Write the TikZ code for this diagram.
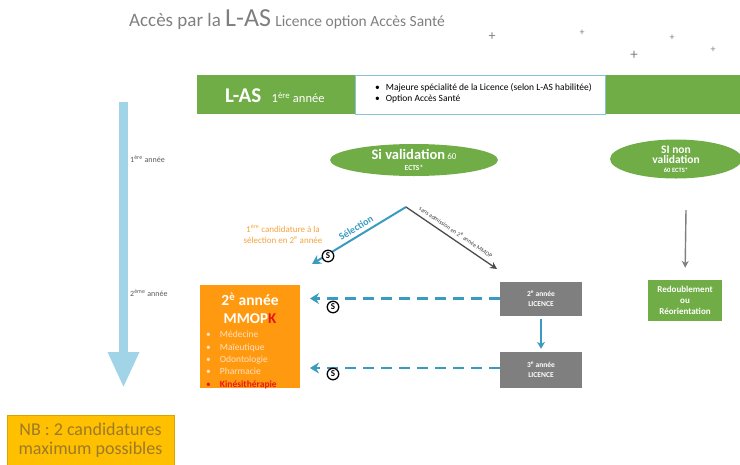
\documentclass[tikz,border=0pt]{standalone}
\usepackage{fontspec}
\setmainfont{Carlito}
\usetikzlibrary{arrows.meta}
\usetikzlibrary{positioning}
\usetikzlibrary{shapes.geometric}
\definecolor{lasgreen}{HTML}{70AD47}
\definecolor{lasblue}{HTML}{3A9BC1}
\definecolor{yearblue}{HTML}{A0D4E6}
\definecolor{lasorange}{HTML}{FF9A10}
\definecolor{lasgray}{HTML}{7F7F7F}
\definecolor{nbgold}{HTML}{FFC000}
\definecolor{nbtext}{HTML}{9C7A2A}
\definecolor{candorange}{HTML}{F5A33C}
\definecolor{kinered}{HTML}{E8151B}
\tikzset{
    greenell/.style = {ellipse,fill=lasgreen,text=white,align=center,inner sep=0},
    licbox/.style = {fill=lasgray,text=white,font=\bfseries\fontsize{7.5}{10}\selectfont,align=center,minimum width=82pt,minimum height=34pt},
    seldash/.style = {lasblue,line width=2.6pt,dash pattern=on 11pt off 7pt,-{Stealth[length=9pt,width=11pt,inset=3pt]}},
    selmark/.style = {circle,draw=black,line width=1.3pt,inner sep=0,minimum size=11.5pt,font=\bfseries\fontsize{9}{9}\selectfont},
    plusmark/.style = {text=lasgray,inner sep=0},
    yeartxt/.style = {anchor=west,text=black!65,font=\fontsize{8}{9}\selectfont,inner sep=0}
}
\begin{document}
\begin{tikzpicture}[x=1pt,y=-1pt]
    \useasboundingbox (0,0) rectangle (740,464);
    % Title
    \node[anchor=base west,inner sep=0,text=lasgray] (title) at (129,26)
        {\fontsize{19}{22}\selectfont Accès par la {\fontsize{26}{28}\selectfont L-AS} {\fontsize{15.5}{18}\selectfont Licence option Accès Santé}};
    \foreach \px/\py/\ps in {492/37/14,582/33/10,634/55/15,672/38/10,713/50/10}
        \node[plusmark,font=\fontsize{\ps}{\ps}\selectfont] at (\px,\py) {+};
    % L-AS bar
    \fill[lasgreen] (197,75) rectangle (740,114);
    \node[fill=white,draw=lasblue!60,line width=0.8pt,minimum width=250pt,minimum height=39pt] (major) at (480,94.5) {};
    \node[anchor=west,inner sep=0,text=white] (las) at (225,96)
        {\bfseries\fontsize{21}{24}\selectfont L-AS\enspace{\mdseries\fontsize{12.5}{14}\selectfont 1\textsuperscript{ère} année}};
    \node[anchor=west,inner sep=0,align=left,font=\fontsize{9.5}{11.5}\selectfont] (majtxt) at (375,93.5)
        {\textbullet\hspace{6pt}Majeure spécialité de la Licence (selon L-AS habilitée)\\
         \textbullet\hspace{6pt}Option Accès Santé};
    % Years
    \draw[yearblue,line width=9pt,-{Triangle[length=36pt,width=29pt]}] (123.5,102) coordinate (ytop) -- (123.5,388) coordinate (ybot);
    \node[yeartxt] (y1) at (130,159) {1\textsuperscript{ère} année};
    \node[yeartxt] (y2) at (130,293) {2\textsuperscript{ème} année};
    % Validation
    \node[greenell,minimum width=168pt,minimum height=32pt] (valid) at (414,160)
        {{\bfseries\fontsize{14.5}{15}\selectfont Si validation} {\fontsize{9}{9}\selectfont 60}\\[-1pt]
         {\bfseries\fontsize{7.5}{8}\selectfont ECTS*}};
    \node[greenell,minimum width=132pt,minimum height=39pt] (nonvalid) at (676,159)
        {{\bfseries\fontsize{11.5}{12}\selectfont SI non}\\[-2pt]
         {\bfseries\fontsize{11.5}{12}\selectfont validation}\\[-3pt]
         {\bfseries\fontsize{6.5}{7}\selectfont 60 ECTS*}};
    \node[fill=lasgreen,text=white,font=\bfseries\fontsize{9}{11}\selectfont,align=center,minimum width=74pt,minimum height=41pt,inner sep=1pt] (redoub) at (685,300.5)
        {Redoublement\\ou\\Réorientation};
    \coordinate (nvdown) at (686,210);
    \draw[lasgray,line width=1.4pt,-{Stealth[length=7pt,width=7pt]},shorten >=12pt] (nvdown) -- (redoub.north);
    % Selection
    \coordinate (apex) at (406,207);
    \coordinate (seltip) at (312,264);
    \coordinate (graytip) at (497,269);
    \draw[lasblue,line width=2pt,-{Stealth[length=9pt,width=10pt,inset=3pt]}] (apex) -- (seltip);
    \draw[black!70,line width=1.3pt,-{Stealth[length=7pt,width=7pt]}] (apex) -- (graytip);
    \node[text=lasblue,rotate=31,inner sep=0,font=\bfseries\fontsize{10}{11}\selectfont] (seltxt) at (356,228) {Sélection};
    \node[text=black!75,rotate=-34,inner sep=0,font=\fontsize{6}{7}\selectfont] (sanstxt) at (456,232)
        {sans admission en 2\textsuperscript{e} année MMOP};
    \node[selmark,fill=white] (s0) at (328,256) {S};
    \node[text=candorange,align=center,font=\fontsize{9}{11}\selectfont,inner sep=0] (cand) at (283,234)
        {1\textsuperscript{ère} candidature à la\\sélection en 2\textsuperscript{e} année};
    % MMOPK
    \node[fill=lasorange,minimum width=100pt,minimum height=103pt] (mmopk) at (250,336.5) {};
    \node[text=white,inner sep=0,font=\bfseries\fontsize{15.5}{17}\selectfont] (mmyear) at (250,299) {2\textsuperscript{è} année};
    \node[text=white,inner sep=0,font=\bfseries\fontsize{15}{17}\selectfont] (mmname) at (250,319) {MMOP\textcolor{kinered}{K}};
    \node[anchor=north west,inner sep=0,align=left,text=orange!25,font=\fontsize{9.5}{12.3}\selectfont] (mmlist) at (206,331)
        {\textbullet\hspace{9pt}Médecine\\
         \textbullet\hspace{9pt}Maïeutique\\
         \textbullet\hspace{9pt}Odontologie\\
         \textbullet\hspace{9pt}Pharmacie\\
         \textcolor{kinered}{\textbullet\hspace{9pt}\bfseries Kinésithérapie}};
    % Licence
    \node[licbox] (licA) at (541,298.5) {2\textsuperscript{e} année\\LICENCE};
    \node[licbox,minimum height=36pt] (licB) at (541,370) {3\textsuperscript{e} année\\LICENCE};
    \draw[lasblue,line width=1.5pt,-{Stealth[length=7pt,width=8pt]},shorten <=3pt,shorten >=3pt] (licA) -- (licB);
    \coordinate (mmA) at (310,298.5);
    \coordinate (mmB) at (310,368);
    \draw[seldash] (licA.west) -- (mmA);
    \draw[seldash] (licB.west |- mmB) -- (mmB);
    \node[selmark] (s1) at (333,307) {S};
    \node[selmark] (s2) at (333,374) {S};
    % NB
    \node[fill=nbgold,draw=nbgold!85!black,line width=0.8pt,minimum width=167pt,minimum height=50pt,
        text=nbtext,align=center,font=\fontsize{18}{19}\selectfont,inner sep=1pt] (nb) at (90.5,440)
        {NB : 2 candidatures\\maximum possibles};
\end{tikzpicture}
\end{document}
